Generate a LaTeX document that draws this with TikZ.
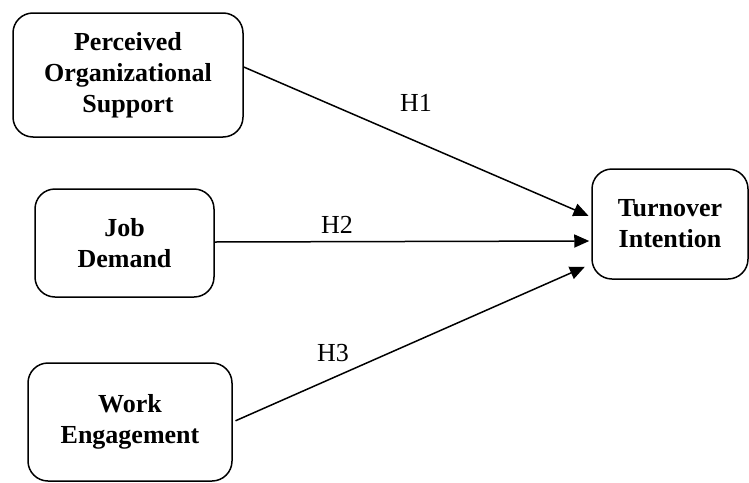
\documentclass[tikz,border=0pt]{standalone}
\usepackage{fontspec}
\setmainfont{Liberation Serif}
\usetikzlibrary{arrows.meta}

\begin{document}
\begin{tikzpicture}[x=1pt, y=-1pt, line width=1.5pt,
  var/.style={draw, rounded corners=20pt, align=center, inner sep=0pt,
    font=\fontsize{26}{31}\selectfont\bfseries},
  hyp/.style={inner sep=0pt, font=\fontsize{26}{31}\selectfont},
  arr/.style={-{Triangle[length=15pt,width=13pt]}}]
\useasboundingbox (0,0) rectangle (749,482);

% constructs
\node[var, minimum width=230pt, minimum height=124pt] (pos) at (128,75) {Perceived\\Organizational\\Support};
\node[var, minimum width=179pt, minimum height=108pt] (jd) at (124.5,243) {Job\\Demand};
\node[var, minimum width=204pt, minimum height=118pt] (we) at (130,422) {Work\\Engagement};
\node[var, minimum width=156pt, minimum height=110pt] (ti) at (670,224) {Turnover\\Intention};

% hypotheses
\draw[arr, shorten >=3pt] ([yshift=8pt]pos.east) -- ([yshift=7pt]ti.west);
\draw[arr, shorten >=2pt] ([yshift=1pt]jd.east) -- ([yshift=-17pt]ti.west);
\draw[arr, shorten <=3pt, shorten >=7pt] (we.east) -- ([yshift=-40pt]ti.west);

\node[hyp] (h1) at (416,103) {H1};
\node[hyp] (h2) at (337,225) {H2};
\node[hyp] (h3) at (333,353) {H3};
\end{tikzpicture}
\end{document}
